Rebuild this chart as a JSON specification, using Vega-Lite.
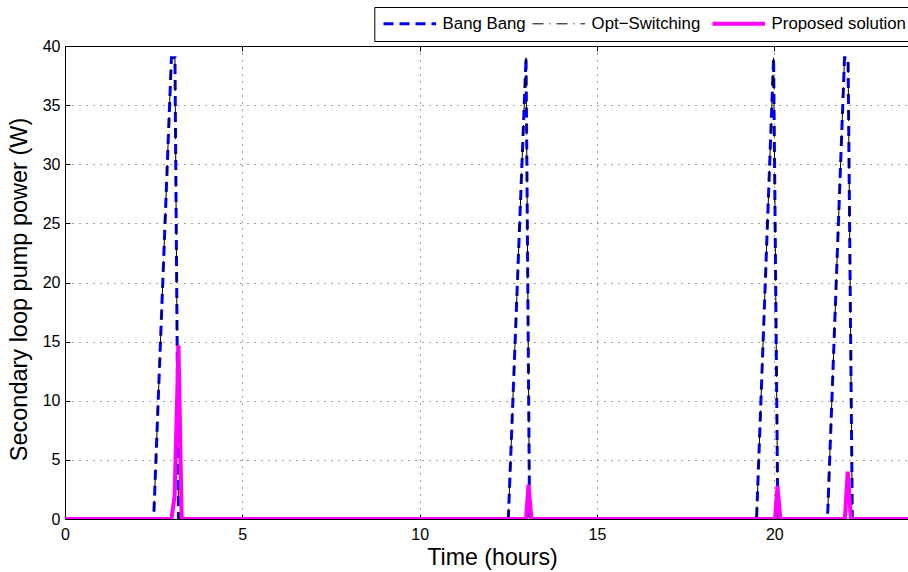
{
  "$schema": "https://vega.github.io/schema/vega-lite/v6.json",
  "width": 843,
  "height": 473,
  "autosize": {"type": "none"},
  "padding": {"left": 65, "top": 46, "right": 0, "bottom": 53},
  "background": "white",
  "config": {
    "view": {"stroke": null},
    "font": "Liberation Sans",
    "legend": {
      "orient": "none",
      "legendX": 309.3,
      "legendY": -39,
      "direction": "horizontal",
      "title": null,
      "symbolType": "M-1.44,0H9.06",
      "symbolSize": 100,
      "labelFont": "Liberation Sans",
      "labelFontSize": 16.8,
      "labelColor": "#000",
      "labelOffset": 43.5,
      "columnPadding": 4,
      "padding": 8,
      "strokeColor": "#000",
      "fillColor": "#fff",
      "zindex": 5
    }
  },
  "layer": [
    {
      "data": {
        "values": [
          {"series": "Bang Bang", "t": 0, "p": 0},
          {"series": "Bang Bang", "t": 2.5, "p": 0},
          {"series": "Bang Bang", "t": 3.0, "p": 39},
          {"series": "Bang Bang", "t": 3.1, "p": 39},
          {"series": "Bang Bang", "t": 3.2, "p": 0},
          {"series": "Bang Bang", "t": 12.5, "p": 0},
          {"series": "Bang Bang", "t": 13.0, "p": 39},
          {"series": "Bang Bang", "t": 13.1, "p": 0},
          {"series": "Bang Bang", "t": 19.5, "p": 0},
          {"series": "Bang Bang", "t": 19.98, "p": 39},
          {"series": "Bang Bang", "t": 20.1, "p": 0},
          {"series": "Bang Bang", "t": 21.5, "p": 0},
          {"series": "Bang Bang", "t": 21.98, "p": 39},
          {"series": "Bang Bang", "t": 22.08, "p": 39},
          {"series": "Bang Bang", "t": 22.2, "p": 0},
          {"series": "Bang Bang", "t": 24, "p": 0},
          {"series": "Opt−Switching", "t": 0, "p": 0},
          {"series": "Opt−Switching", "t": 2.5, "p": 0},
          {"series": "Opt−Switching", "t": 3.0, "p": 39},
          {"series": "Opt−Switching", "t": 3.1, "p": 39},
          {"series": "Opt−Switching", "t": 3.2, "p": 0},
          {"series": "Opt−Switching", "t": 12.5, "p": 0},
          {"series": "Opt−Switching", "t": 13.0, "p": 39},
          {"series": "Opt−Switching", "t": 13.1, "p": 0},
          {"series": "Opt−Switching", "t": 19.5, "p": 0},
          {"series": "Opt−Switching", "t": 19.98, "p": 39},
          {"series": "Opt−Switching", "t": 20.1, "p": 0},
          {"series": "Opt−Switching", "t": 21.5, "p": 0},
          {"series": "Opt−Switching", "t": 21.98, "p": 39},
          {"series": "Opt−Switching", "t": 22.08, "p": 39},
          {"series": "Opt−Switching", "t": 22.2, "p": 0},
          {"series": "Opt−Switching", "t": 24, "p": 0},
          {"series": "Proposed solution", "t": 0, "p": 0},
          {"series": "Proposed solution", "t": 3.0, "p": 0},
          {"series": "Proposed solution", "t": 3.09, "p": 1.9},
          {"series": "Proposed solution", "t": 3.2, "p": 14.7},
          {"series": "Proposed solution", "t": 3.29, "p": 0},
          {"series": "Proposed solution", "t": 13.0, "p": 0},
          {"series": "Proposed solution", "t": 13.07, "p": 2.9},
          {"series": "Proposed solution", "t": 13.15, "p": 0},
          {"series": "Proposed solution", "t": 20.02, "p": 0},
          {"series": "Proposed solution", "t": 20.09, "p": 2.8},
          {"series": "Proposed solution", "t": 20.17, "p": 0},
          {"series": "Proposed solution", "t": 21.99, "p": 0},
          {"series": "Proposed solution", "t": 22.07, "p": 4.0},
          {"series": "Proposed solution", "t": 22.16, "p": 0},
          {"series": "Proposed solution", "t": 24, "p": 0}
        ]
      },
      "mark": {"type": "line", "clip": true, "strokeCap": "butt", "strokeJoin": "miter"},
      "encoding": {
        "x": {
          "field": "t",
          "type": "quantitative",
          "scale": {"domain": [0, 23.77], "nice": false, "zero": false},
          "axis": {
            "orient": "bottom",
            "title": "Time (hours)",
            "titleFont": "Liberation Sans",
            "titleFontSize": 23.2,
            "titleFontWeight": "normal",
            "titleColor": "#000",
            "titleX": 427,
            "titlePadding": 4,
            "values": [0, 5, 10, 15, 20],
            "format": "d",
            "labelFontSize": 16,
            "labelColor": "#000",
            "labelPadding": 12,
            "tickSize": -5,
            "tickColor": "#000",
            "domainColor": "#000",
            "grid": true,
            "gridDash": [1, 6],
            "gridColor": "#444",
            "labelFlush": false
          }
        },
        "y": {
          "field": "p",
          "type": "quantitative",
          "scale": {"domain": [0, 40], "nice": false},
          "axis": {
            "title": "Secondary loop pump power (W)",
            "titleFont": "Liberation Sans",
            "titleFontSize": 23.5,
            "titleFontWeight": "normal",
            "titleColor": "#000",
            "titlePadding": 11,
            "titleY": 243,
            "values": [0, 5, 10, 15, 20, 25, 30, 35, 40],
            "labelFontSize": 16,
            "labelColor": "#000",
            "labelPadding": 10,
            "tickSize": -5,
            "tickColor": "#000",
            "domainColor": "#000",
            "grid": true,
            "gridDash": [1, 6],
            "gridColor": "#444",
            "labelFlush": false
          }
        },
        "color": {
          "field": "series",
          "type": "nominal",
          "scale": {"domain": ["Bang Bang", "Opt−Switching", "Proposed solution"], "range": ["#0000ff", "#000000", "#ff00ff"]}
        },
        "strokeDash": {
          "field": "series",
          "type": "nominal",
          "scale": {"domain": ["Bang Bang", "Opt−Switching", "Proposed solution"], "range": [[10, 6], [11, 6, 1, 6], [1, 0]]}
        },
        "strokeWidth": {
          "field": "series",
          "type": "nominal",
          "scale": {"type": "ordinal", "domain": ["Bang Bang", "Opt−Switching", "Proposed solution"], "range": [3, 1, 4]}
        }
      }
    },
    {
      "mark": {"type": "rule", "opacity": 0},
      "encoding": {
        "x": {
          "datum": 0,
          "type": "quantitative",
          "axis": {
            "orient": "top",
            "title": null,
            "labels": false,
            "values": [0, 5, 10, 15, 20],
            "tickSize": -5,
            "tickColor": "#000",
            "domainColor": "#000",
            "grid": false
          }
        }
      }
    }
  ],
  "resolve": {"axis": {"x": "independent"}}
}
